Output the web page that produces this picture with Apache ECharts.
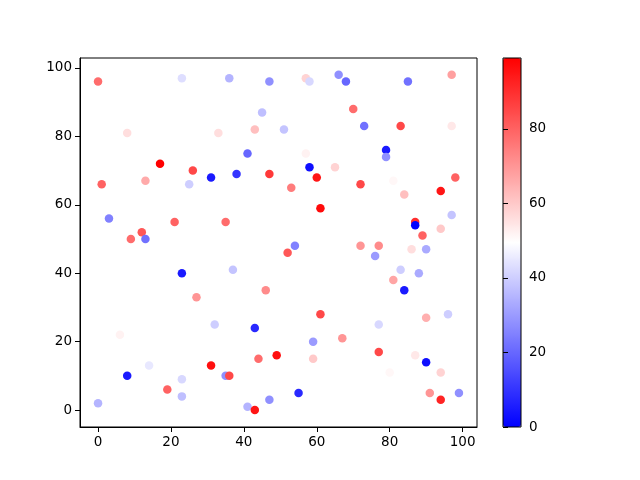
<!DOCTYPE html>
<html><head><meta charset="utf-8">
<script src="https://cdn.jsdelivr.net/npm/echarts@6/dist/echarts.min.js"></script>
<style>html,body{margin:0;padding:0;background:#fff}#c{width:640px;height:480px}</style>
</head><body><div id="c"></div>
<script>
const xs = [0,23,8,33,17,26,31,1,13,25,36,47,57,58,66,68,45,70,43,51,41,57,38,47,58,65,60,53,85,97,73,83,97,79,79,72,81,98,3,21,12,9,13,23,27,61,35,54,52,37,46,84,94,97,87,87,89,94,72,77,86,90,76,83,88,81,84,32,6,14,31,8,23,19,23,0,43,61,59,67,44,49,59,35,36,55,47,41,43,77,90,96,77,87,90,80,94,91,94,99];
const ys = [96,97,81,81,72,70,68,66,67,66,97,96,97,96,98,96,87,88,82,82,75,75,69,69,71,71,68,65,96,98,83,83,83,76,74,66,67,68,56,55,52,50,50,40,33,59,55,48,46,41,35,63,64,57,55,54,51,53,48,48,47,47,45,41,40,38,35,25,22,13,13,10,9,6,4,2,24,28,20,21,15,16,15,10,10,5,3,1,0,25,27,28,17,16,14,11,11,5,3,5];
const cs = [78,43,56,56,99,85,5,80,66,40,35,28,58,42,28,20,37,78,62,38,20,52,10,88,3,58,95,75,22,68,22,85,54,5,28,85,51,80,25,80,82,78,22,5,70,97,78,25,82,38,72,62,95,38,90,0,80,60,70,72,56,33,30,40,33,67,5,40,52,45,96,5,42,80,37,35,8,85,30,70,78,96,60,28,85,8,28,35,95,42,65,40,85,54,3,51,58,70,92,28];
const xTicks = [0,20,40,60,80,100];
const yTicks = [0,20,40,60,80,100];
const cMin = 0, cMax = 99;

const points = xs.map((x,i)=>[x, ys[i], cs[i]]);
const font = {fontFamily:'DejaVu Sans', fontSize:13.5, color:'#000'};
const chart = echarts.init(document.getElementById('c'));
chart.setOption({
  animation:false,
  backgroundColor:'#fff',
  grid:[
    {left:80, top:58, width:397, height:369, show:true, borderColor:'#000', borderWidth:1, backgroundColor:'transparent'},
    {left:503, top:58, width:18, height:369, show:true, borderColor:'#000', borderWidth:1, backgroundColor:'transparent', z:10}
  ],
  xAxis:[
    {type:'value', gridIndex:0, min:-4.95, max:103.95, splitLine:{show:false},
     axisLine:{show:true, onZero:false, lineStyle:{color:'#000'}},
     axisTick:{show:true, customValues:xTicks, length:5, lineStyle:{color:'#000'}},
     axisLabel:Object.assign({customValues:xTicks, margin:8}, font)},
    {type:'value', gridIndex:1, min:0, max:1, show:false}
  ],
  yAxis:[
    {type:'value', gridIndex:0, min:-4.95, max:102.9, splitLine:{show:false},
     axisLine:{show:true, onZero:false, lineStyle:{color:'#000'}},
     axisTick:{show:true, customValues:yTicks, length:5, lineStyle:{color:'#000'}},
     axisLabel:Object.assign({customValues:yTicks, margin:8}, font)},
    {type:'value', gridIndex:1, min:cMin, max:cMax, interval:20, position:'right', z:10,
     splitLine:{show:false},
     axisLine:{show:false},
     axisTick:{show:true, length:5, lineStyle:{color:'#000'}},
     axisLabel:Object.assign({margin:8, showMaxLabel:false}, font)}
  ],
  visualMap:{
    type:'continuous', min:cMin, max:cMax, dimension:2, seriesIndex:0,
    calculable:false, realtime:false, text:null, padding:0,
    left:503, top:58, itemWidth:18, itemHeight:369, z:2,
    inRange:{color:['#0000ff','#ffffff','#ff0000']},
    hoverLink:false
  },
  series:[
    {type:'scatter', xAxisIndex:0, yAxisIndex:0, data:points, symbolSize:8.5,
     itemStyle:{opacity:1}},
    {type:'line', xAxisIndex:1, yAxisIndex:1, data:[], silent:true}
  ]
});
</script></body></html>
